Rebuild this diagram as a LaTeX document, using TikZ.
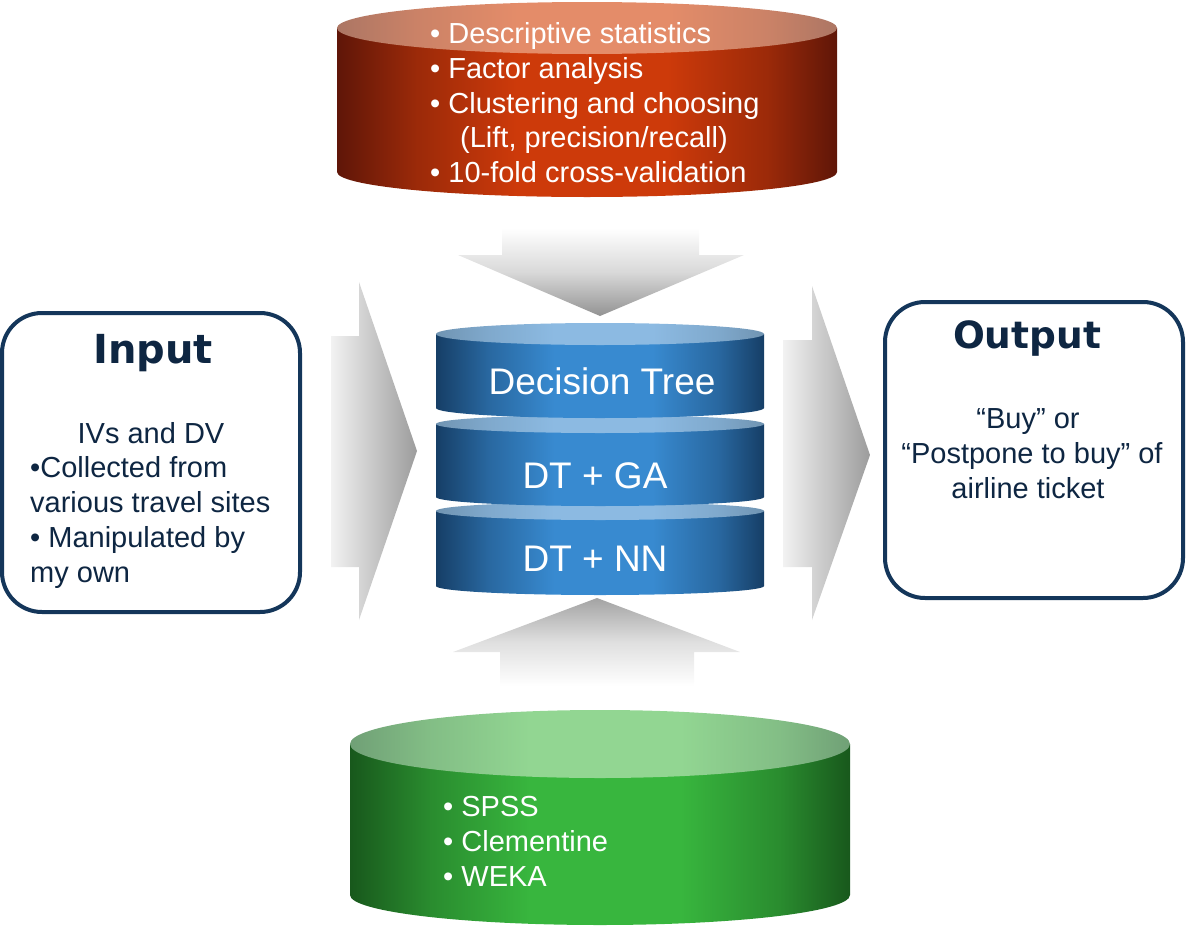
\documentclass[tikz,border=0pt]{standalone}
\usepackage{fontspec}
\setmainfont{Liberation Sans}
\newfontfamily\titlefont{DejaVu Sans}
\definecolor{redE}{HTML}{5F1608}
\definecolor{redC}{HTML}{CD3A0A}
\definecolor{redTE}{HTML}{AC7664}
\definecolor{redTC}{HTML}{E48C69}
\definecolor{blueE}{HTML}{163E66}
\definecolor{blueC}{HTML}{388AD0}
\definecolor{blueTE}{HTML}{7094B2}
\definecolor{blueTC}{HTML}{8CBAE2}
\definecolor{greenE}{HTML}{18581C}
\definecolor{greenC}{HTML}{38B63E}
\definecolor{greenTE}{HTML}{70A076}
\definecolor{greenTC}{HTML}{92D692}
\colorlet{redM}{redC!55!redE}
\colorlet{redTM}{redTC!55!redTE}
\colorlet{blueM}{blueC!55!blueE}
\colorlet{blueTM}{blueTC!55!blueTE}
\colorlet{greenM}{greenC!55!greenE}
\colorlet{greenTM}{greenTC!55!greenTE}
\definecolor{navyline}{HTML}{14365A}
\definecolor{navytext}{HTML}{0E2642}
\definecolor{arrowlight}{HTML}{F2F2F2}
\definecolor{arrowdark}{HTML}{9C9C9C}
\pgfdeclarehorizontalshading{redbodysh}{100bp}{color(0bp)=(redE); color(25bp)=(redE); color(33bp)=(redM); color(43bp)=(redC); color(58bp)=(redC); color(68bp)=(redM); color(75bp)=(redE); color(100bp)=(redE)}
\pgfdeclarehorizontalshading{redtopsh}{100bp}{color(0bp)=(redTE); color(25bp)=(redTE); color(33bp)=(redTM); color(43bp)=(redTC); color(58bp)=(redTC); color(68bp)=(redTM); color(75bp)=(redTE); color(100bp)=(redTE)}
\pgfdeclarehorizontalshading{bluebodysh}{100bp}{color(0bp)=(blueE); color(25bp)=(blueE); color(33bp)=(blueM); color(43bp)=(blueC); color(58bp)=(blueC); color(68bp)=(blueM); color(75bp)=(blueE); color(100bp)=(blueE)}
\pgfdeclarehorizontalshading{bluetopsh}{100bp}{color(0bp)=(blueTE); color(25bp)=(blueTE); color(33bp)=(blueTM); color(43bp)=(blueTC); color(58bp)=(blueTC); color(68bp)=(blueTM); color(75bp)=(blueTE); color(100bp)=(blueTE)}
\pgfdeclarehorizontalshading{greenbodysh}{100bp}{color(0bp)=(greenE); color(25bp)=(greenE); color(33bp)=(greenM); color(43bp)=(greenC); color(58bp)=(greenC); color(68bp)=(greenM); color(75bp)=(greenE); color(100bp)=(greenE)}
\pgfdeclarehorizontalshading{greentopsh}{100bp}{color(0bp)=(greenTE); color(25bp)=(greenTE); color(33bp)=(greenTM); color(43bp)=(greenTC); color(58bp)=(greenTC); color(68bp)=(greenTM); color(75bp)=(greenTE); color(100bp)=(greenTE)}
\tikzset{
  wtxt/.style={text=white, inner sep=0pt, font=\fontsize{29}{34}\selectfont},
  btxt/.style={text=white, inner sep=0pt, font=\fontsize{37}{44}\selectfont},
  ntxt/.style={text=navytext, inner sep=0pt, font=\fontsize{29}{34}\selectfont},
  ttl/.style={text=navytext, inner sep=0pt},
  iobox/.style={draw=navyline, line width=4pt, rounded corners=40pt, fill=white, inner sep=0pt},
  sidearrow/.style={left color=arrowlight, right color=arrowdark},
  redbody/.style={shading=redbodysh},
  redtop/.style={shading=redtopsh},
  bluebody/.style={shading=bluebodysh},
  bluetop/.style={shading=bluetopsh},
  greenbody/.style={shading=greenbodysh},
  greentop/.style={shading=greentopsh},
}
\begin{document}
\begin{tikzpicture}[x=1pt, y=-1pt]
\useasboundingbox (0,0) rectangle (1189,926);

% ---------- gray block arrows ----------
\shade[top color=white, bottom color=gray!85, middle color=gray!30]
  (502,228) -- (699,228) -- (699,255) -- (744,255) -- (600,316) -- (458,255) -- (502,255) -- cycle;
\shade[bottom color=white, top color=gray!72, middle color=gray!25]
  (500,686) -- (694,686) -- (694,652) -- (740,652) -- (597,598) -- (453,652) -- (500,652) -- cycle;
\shade[sidearrow]
  (331,336) -- (359,336) -- (359,282) -- (417,451) -- (359,620) -- (359,567) -- (331,567) -- cycle;
\shade[sidearrow]
  (783,340) -- (812,340) -- (812,286) -- (870,455) -- (812,620) -- (812,567) -- (783,567) -- cycle;

% ---------- top (red) cylinder ----------
\shade[redbody] (337,28) -- (337,172) arc[start angle=180, end angle=360, x radius=250pt, y radius=25pt] -- (837,28) -- cycle;
\shade[redtop] (587,28) ellipse[x radius=250pt, y radius=26pt];
\node[wtxt, anchor=base west] (r1) at (430,43) {• Descriptive statistics};
\node[wtxt, anchor=base west] (r2) at (430,78) {• Factor analysis};
\node[wtxt, anchor=base west] (r3) at (430,113) {• Clustering and choosing};
\node[wtxt, anchor=base west] (r4) at (460,147) {(Lift, precision/recall)};
\node[wtxt, anchor=base west] (r5) at (430,182) {• 10-fold cross-validation};

% ---------- blue stack (drawn bottom up) ----------
\shade[bluebody] (436,511) -- (436,586) arc[start angle=180, end angle=360, x radius=164pt, y radius=9pt] -- (764,511) -- cycle;
\shade[bluetop] (600,511) ellipse[x radius=164pt, y radius=9pt];
\shade[bluebody] (436,424) -- (436,497) arc[start angle=180, end angle=360, x radius=164pt, y radius=9pt] -- (764,424) -- cycle;
\shade[bluetop] (600,424) ellipse[x radius=164pt, y radius=9pt];
\shade[bluebody] (436,334) -- (436,408) arc[start angle=180, end angle=360, x radius=164pt, y radius=10pt] -- (764,334) -- cycle;
\shade[bluetop] (600,334) ellipse[x radius=164pt, y radius=11pt];
\node[btxt, anchor=base] (dt) at (602,394) {Decision Tree};
\node[btxt, anchor=base] (dtga) at (595,488) {DT + GA};
\node[btxt, anchor=base] (dtnn) at (595,571) {DT + NN};

% ---------- bottom (green) cylinder ----------
\shade[greenbody] (350,744) -- (350,895) arc[start angle=180, end angle=360, x radius=250pt, y radius=30pt] -- (850,744) -- cycle;
\shade[greentop] (600,744) ellipse[x radius=250pt, y radius=34pt];
\node[wtxt, anchor=base west] (g1) at (443,816) {• SPSS};
\node[wtxt, anchor=base west] (g2) at (443,851) {• Clementine};
\node[wtxt, anchor=base west] (g3) at (443,886) {• WEKA};

% ---------- input box ----------
\node[iobox, minimum width=298pt, minimum height=299pt] (inbox) at (151,462.5) {};
\node[ttl, anchor=base, font=\titlefont\bfseries\fontsize{40}{44}\selectfont] (inttl) at (153,363) {Input};
\node[ntxt, anchor=base] (in1) at (151,443) {IVs and DV};
\node[ntxt, anchor=base west] (in2) at (30,477) {•Collected from};
\node[ntxt, anchor=base west] (in3) at (30,512) {various travel sites};
\node[ntxt, anchor=base west] (in4) at (30,547) {• Manipulated by};
\node[ntxt, anchor=base west] (in5) at (30,582) {my own};

% ---------- output box ----------
\node[iobox, minimum width=298pt, minimum height=296pt] (outbox) at (1034,450) {};
\node[ttl, anchor=base, font=\titlefont\bfseries\fontsize{37.5}{44}\selectfont] (outttl) at (1027,348) {Output};
\node[ntxt, anchor=base] (out1) at (1028,428) {“Buy” or};
\node[ntxt, anchor=base] (out2) at (1032,463) {“Postpone to buy” of};
\node[ntxt, anchor=base] (out3) at (1028,498) {airline ticket};
\end{tikzpicture}
\end{document}
